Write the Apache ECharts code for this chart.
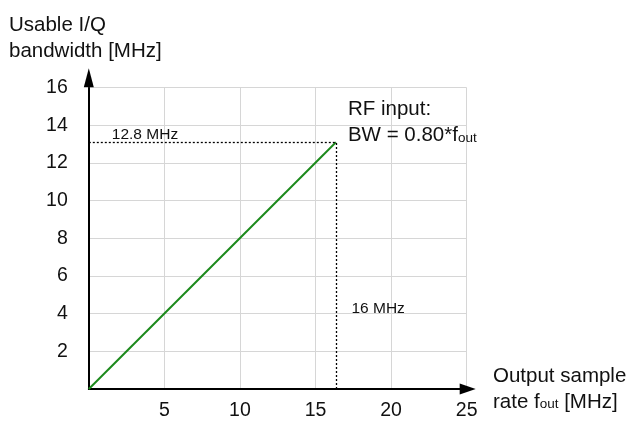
<!DOCTYPE html>
<html lang="en">
<head>
<meta charset="utf-8">
<title>Usable I/Q bandwidth</title>
<script src="https://cdn.jsdelivr.net/npm/echarts@6/dist/echarts.min.js"></script>
<style>
    html, body { margin: 0; padding: 0; background: #fff; }
    #main { width: 632px; height: 421px; }
</style>
</head>
<body>
<div id="main"></div>
<script>
// axis ticks
var xTicks = [0, 5, 10, 15, 20, 25];
var yTicks = [0, 2, 4, 6, 8, 10, 12, 14, 16];
// BW = 0.80 * f_out, line drawn up to the RF input limit
var rateX = [0, 16.35];
var bwY = [0, 13.1];
var hLabel = '12.8 MHz';
var vLabel = '16 MHz';

var font = '"Liberation Sans", Arial, sans-serif';
var chart = echarts.init(document.getElementById('main'));

var endPt = [rateX[rateX.length - 1], bwY[bwY.length - 1]];

var option = {
    animation: false,
    grid: { left: 88.8, right: 165.3, top: 87.7, bottom: 31.2 },
    xAxis: {
        type: 'value',
        min: xTicks[0],
        max: xTicks[xTicks.length - 1],
        interval: xTicks[1] - xTicks[0],
        axisLine: {
            show: true,
            symbol: ['none', 'triangle'],
            symbolSize: [11, 16],
            symbolOffset: [0, 1],
            lineStyle: { color: '#000', width: 2 }
        },
        axisTick: { show: false },
        axisLabel: {
            margin: 12,
            fontFamily: font, fontSize: 19.5, color: '#111',
            formatter: function (v) { return v === 0 ? '' : String(v); }
        },
        splitLine: { show: true, lineStyle: { color: '#d6d6d6', width: 1 } }
    },
    yAxis: {
        type: 'value',
        min: yTicks[0],
        max: yTicks[yTicks.length - 1],
        interval: yTicks[1] - yTicks[0],
        offset: 2,
        axisLine: {
            show: true,
            symbol: ['none', 'triangle'],
            symbolSize: [10, 19],
            symbolOffset: [0, 10],
            lineStyle: { color: '#000', width: 2 }
        },
        axisTick: { show: false },
        axisLabel: {
            margin: 19,
            fontFamily: font, fontSize: 19.5, color: '#111',
            formatter: function (v) { return v === 0 ? '' : String(v); }
        },
        splitLine: { show: true, lineStyle: { color: '#d6d6d6', width: 1 } }
    },
    series: [{
        type: 'line',
        data: rateX.map(function (x, i) { return [x, bwY[i]]; }),
        symbol: 'none',
        lineStyle: { color: '#1c8a1c', width: 2 },
        markLine: {
            silent: true,
            symbol: 'none',
            label: { show: false },
            lineStyle: { color: '#000', width: 1.3, type: [2, 2] },
            data: [
                [{ coord: [0, endPt[1]] }, { coord: endPt }],
                [{ coord: [endPt[0], 0] }, { coord: endPt }]
            ]
        }
    }]
};
chart.setOption(option);

// annotations placed relative to the data end point
var pEnd = chart.convertToPixel({ gridIndex: 0 }, endPt);
var pOrigin = chart.convertToPixel({ gridIndex: 0 }, [0, 0]);
var pV = chart.convertToPixel({ gridIndex: 0 }, [endPt[0], 4]);

var subStyle = { fontSize: 13.5, fontFamily: font, fill: '#111', verticalAlign: 'middle', padding: [5, 0, 0, 0] };

chart.setOption({
    graphic: [
        {
            type: 'text', left: 9, top: 12,
            style: {
                text: 'Usable I/Q\nbandwidth [MHz]',
                font: '20.5px ' + font, fill: '#111', lineHeight: 26
            }
        },
        {
            type: 'text', left: 493, top: 363,
            style: {
                text: 'Output sample\nrate f{s|out} [MHz]',
                font: '20.5px ' + font, fill: '#111', lineHeight: 26,
                rich: { s: subStyle }
            }
        },
        {
            type: 'text', x: pEnd[0] + 12, y: pEnd[1] + 6,
            style: {
                text: 'RF input:\nBW = 0.80*f{s|out}',
                font: '20.5px ' + font, fill: '#111', lineHeight: 26,
                verticalAlign: 'bottom',
                rich: { s: subStyle }
            }
        },
        {
            type: 'text', x: pOrigin[0] + 23, y: pEnd[1],
            style: {
                text: hLabel, font: '15.5px ' + font, fill: '#111',
                verticalAlign: 'bottom'
            }
        },
        {
            type: 'text', x: pV[0] + 15.5, y: pV[1] + 3,
            style: {
                text: vLabel, font: '15.5px ' + font, fill: '#111',
                verticalAlign: 'bottom'
            }
        }
    ]
});
</script>
</body>
</html>
